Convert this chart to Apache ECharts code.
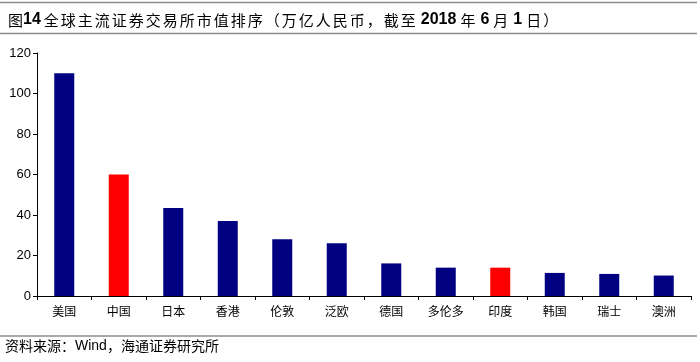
<!DOCTYPE html>
<html>
<head>
<meta charset="utf-8">
<script src="https://cdn.jsdelivr.net/npm/echarts@6/dist/echarts.min.js"></script>
<style>html,body{margin:0;padding:0;background:#fff}#c{width:700px;height:362px}</style>
</head>
<body>
<div id="c"></div>
<script>
const categories = ['美国','中国','日本','香港','伦敦','泛欧','德国','多伦多','印度','韩国','瑞士','澳洲'];
const values = [110, 60, 43.5, 37, 28, 26, 16.1, 14, 14, 11.4, 10.9, 10.1];
const highlight = ['中国','印度'];
const yTicks = [0, 20, 40, 60, 80, 100, 120];

const chart = echarts.init(document.getElementById('c'), null, {renderer: 'canvas'});
const cjk = '"Noto Sans CJK SC", sans-serif';
const lat = '"Liberation Sans", Arial, sans-serif';
const w = s => s.split('').map(ch => '{w|' + ch + '}').join('');
const titleText = '{f|图}{n0|14}' + w('全球主流证券交易所市值排序（万亿人民币，截至') +
  '{n|2018}' + w('年') + '{n|6}' + w('月') + '{n|1}' + w('日）');
chart.setOption({
  animation: false,
  title: {
    left: 3, top: 7,
    text: titleText,
    textStyle: {
      fontWeight: 'normal',
      rich: {
        f: {fontFamily: cjk, fontSize: 15, color: '#000', fontWeight: 'normal', width: 15, align: 'left'},
        w: {fontFamily: cjk, fontSize: 15, color: '#000', fontWeight: 'normal', width: 17, align: 'left'},
        n0: {fontFamily: lat, fontSize: 16, color: '#000', fontWeight: 'bold', padding: [0, 3, 0, 0]},
        n: {fontFamily: lat, fontSize: 16, color: '#000', fontWeight: 'bold', padding: [0, 4, 0, 3]}
      }
    }
  },
  graphic: [
    {type: 'line', shape: {x1: 0, y1: 2.5, x2: 697, y2: 2.5}, style: {stroke: '#8c8c8c', lineWidth: 1.5}},
    {type: 'line', shape: {x1: 0, y1: 33.5, x2: 697, y2: 33.5}, style: {stroke: '#8c8c8c', lineWidth: 1.5}},
    {type: 'line', shape: {x1: 0, y1: 336, x2: 697, y2: 336}, style: {stroke: '#8c8c8c', lineWidth: 1.5}},
    {type: 'text', left: 5, top: 339, style: {
      text: '{c|资料来源：}{l|Wind}{c|，海通证券研究所}',
      rich: {
        c: {fontFamily: cjk, fontSize: 14, fill: '#000'},
        l: {fontFamily: lat, fontSize: 14, fill: '#000'}
      }
    }}
  ],
  grid: {left: 37, right: 9, top: 53, bottom: 66, containLabel: false},
  xAxis: {
    type: 'category',
    data: categories,
    axisLine: {lineStyle: {color: '#000', width: 1}},
    axisTick: {show: true, alignWithLabel: false, length: 4, lineStyle: {color: '#000'}},
    axisLabel: {fontFamily: cjk, fontSize: 12, color: '#000', margin: 9, interval: 0}
  },
  yAxis: {
    type: 'value',
    min: 0, max: 120, interval: 20,
    splitLine: {show: false},
    axisLine: {show: true, lineStyle: {color: '#000', width: 1}},
    axisTick: {show: true, length: 4, lineStyle: {color: '#000'}},
    axisLabel: {fontFamily: lat, fontSize: 13, color: '#000', margin: 6,
      formatter: v => yTicks.includes(v) ? String(v) : ''}
  },
  series: [{
    type: 'bar',
    barWidth: 20,
    data: categories.map((c, i) => ({
      value: values[i],
      itemStyle: {color: highlight.includes(c) ? '#ff0000' : '#000080'}
    }))
  }]
});
</script>
</body>
</html>
